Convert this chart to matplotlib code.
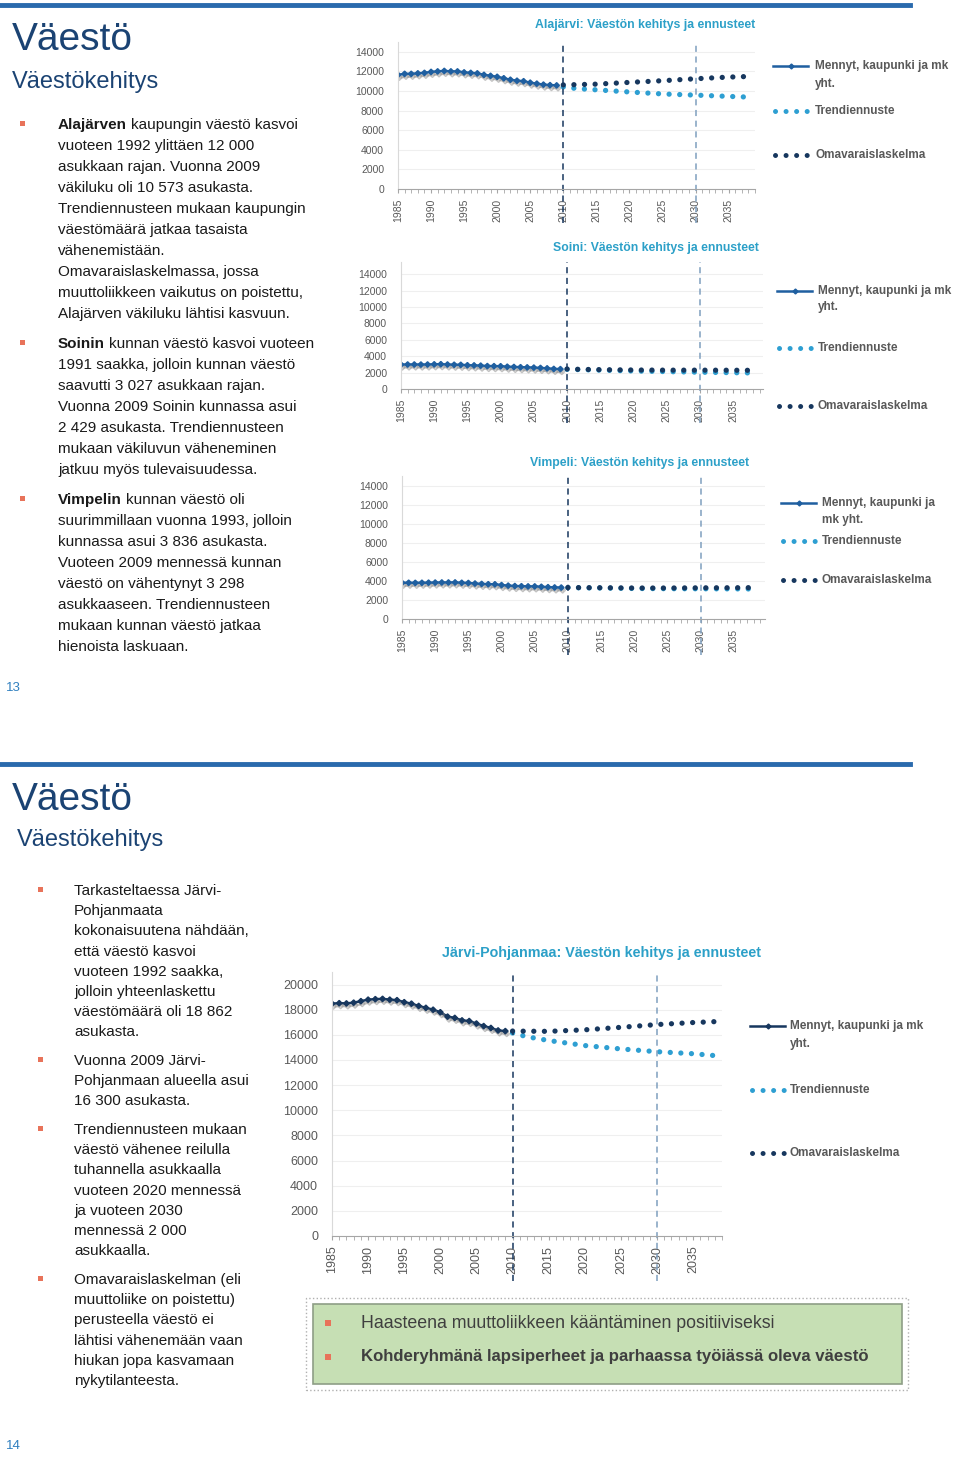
import matplotlib
matplotlib.use('Agg')
import matplotlib.pyplot as plt
import matplotlib.patheffects as pe
from matplotlib.lines import Line2D
from matplotlib.patches import Rectangle

plt.rcParams['font.family'] = ['Liberation Sans', 'DejaVu Sans']

# ---- data ----
hist_years = list(range(1985, 2010))
fc_years = [2010, 2012, 2015, 2020, 2025, 2030, 2035, 2038]

alajarvi_hist = [11650, 11750, 11750, 11800, 11850, 11950, 12000, 12050, 12000, 12000,
                 11900, 11850, 11800, 11650, 11550, 11450, 11300, 11150, 11050, 11000,
                 10850, 10750, 10650, 10600, 10573]
alajarvi_trend = [10420, 10250, 10120, 9900, 9700, 9580, 9450, 9380]
alajarvi_oma = [10620, 10650, 10700, 10880, 11050, 11250, 11420, 11480]

soini_hist = [2980, 2990, 2990, 2980, 2990, 3010, 3027, 2990, 2960, 2950,
              2900, 2880, 2850, 2800, 2790, 2780, 2720, 2690, 2660, 2640,
              2610, 2570, 2520, 2450, 2429]
soini_trend = [2400, 2360, 2300, 2200, 2120, 2050, 1990, 1960]
soini_oma = [2440, 2400, 2360, 2320, 2300, 2300, 2290, 2280]

vimpeli_hist = [3800, 3800, 3790, 3800, 3810, 3820, 3830, 3830, 3836, 3800,
                3780, 3720, 3680, 3650, 3640, 3560, 3500, 3460, 3440, 3420,
                3420, 3380, 3340, 3310, 3298]
vimpeli_trend = [3290, 3270, 3250, 3200, 3180, 3170, 3160, 3150]
vimpeli_oma = [3300, 3290, 3280, 3250, 3250, 3270, 3280, 3290]

jp_hist = [18480, 18520, 18500, 18560, 18680, 18800, 18840, 18862, 18800, 18760,
           18600, 18480, 18300, 18150, 18000, 17800, 17450, 17350, 17150, 17100,
           16900, 16700, 16550, 16350, 16300]
jp_trend = [16150, 15850, 15550, 15150, 14880, 14660, 14500, 14350]
jp_oma = [16300, 16290, 16280, 16400, 16600, 16820, 16980, 17050]

W, H = 960, 1458
fig = plt.figure(figsize=(9.6, 14.58), dpi=100)
renderer = fig.canvas.get_renderer()

NAVY = '#17375e'
HIST_BLUE = '#1f5fa0'
TREND = '#2e9fd2'
TITLE_BLUE = '#1b4373'
TEXT = '#1a1a1a'
GRAY = '#595959'
BULLET = '#e8735a'


def fx(x):
    return x / W


def fy(y):
    return 1 - y / H


def text(x, y, s, **kw):
    return fig.text(fx(x), fy(y), s, **kw)


def hline(x0, x1, y, color, lw):
    fig.add_artist(Line2D([fx(x0), fx(x1)], [fy(y), fy(y)], color=color, lw=lw))


def bullets(xb, xt, blocks, size=11):
    for y0, step, lines, bold in blocks:
        fig.add_artist(Rectangle((fx(xb - 2.5), fy(y0 + 1)), 5 / W, 5 / H,
                                 color=BULLET, lw=0))
        for i, line in enumerate(lines):
            y = y0 + i * step
            x = xt
            if i == 0 and bold:
                t = text(x, y, bold, fontsize=size, fontweight='bold', color=TEXT, va='center')
                x = t.get_window_extent(renderer=renderer).x1 + 4
            text(x, y, line, fontsize=size, color=TEXT, va='center')


def chart(box, xmax, ymax, yticks, hist, trend, oma, title, title_xy, fs,
          hist_color, legend, ext):
    x0, x1, ytop, ybot = box
    ax = fig.add_axes([fx(x0), fy(ybot), (x1 - x0) / W, (ybot - ytop) / H])
    ax.set_xlim(1985, xmax)
    ax.set_ylim(0, ymax)
    ax.set_yticks(yticks)
    ax.yaxis.grid(True, color='#efefef', lw=0.8)
    ax.set_axisbelow(True)
    for s in ['top', 'right']:
        ax.spines[s].set_visible(False)
    ax.spines['left'].set_color('#d9d9d9')
    ax.spines['bottom'].set_color('#a6a6a6')
    ax.set_xticks(list(range(1985, 2036, 5)))
    ax.set_xticks(list(range(1985, int(xmax) + 1)), minor=True)
    ax.tick_params(axis='x', which='both', direction='out', length=3, color='#a6a6a6',
                   labelsize=fs, labelcolor=GRAY, labelrotation=90, pad=4)
    ax.tick_params(axis='y', length=0, labelsize=fs, labelcolor=GRAY, pad=10)

    ax.plot(hist_years, hist, color=hist_color, lw=1.8, marker='D', ms=2.8,
            path_effects=[pe.SimpleLineShadow(offset=(1, -2), shadow_color='#888888', alpha=0.5),
                          pe.Normal()])
    ax.plot(fc_years, trend, color=TREND, lw=3.8, linestyle=(0, (0.01, 2.0)),
            dash_capstyle='round')
    ax.plot(fc_years, oma, color=NAVY, lw=3.8, linestyle=(0, (0.01, 2.0)),
            dash_capstyle='round')

    ax.axvline(2010, ymin=-ext, ymax=1.0, color=NAVY, lw=1.1, ls=(0, (4, 3)), clip_on=False)
    ax.axvline(2030, ymin=-ext, ymax=1.0, color='#7f9fbf', lw=1.1, ls=(0, (4, 3)), clip_on=False)

    text(title_xy[0], title_xy[1], title, fontsize=fs + 1.3, fontweight='bold',
         color='#2ca0c8', ha='center', va='center')

    lx, lt, y_hist, y_hist2, y_trend, y_oma, lab1, lab2 = legend
    fig.add_artist(Line2D([fx(lx), fx(lx + 35)], [fy(y_hist)] * 2, color=hist_color, lw=1.8))
    fig.add_artist(Line2D([fx(lx + 17.5)], [fy(y_hist)], color=hist_color, marker='D', ms=2.5))
    for yy, c in [(y_trend, TREND), (y_oma, NAVY)]:
        fig.add_artist(Line2D([fx(lx + 2), fx(lx + 35)], [fy(yy)] * 2, color=c, lw=3.6,
                              linestyle=(0, (0.01, 2.1)), dash_capstyle='round'))
    lfs = 8.5
    text(lt, y_hist, lab1, fontsize=lfs, fontweight='bold', color=GRAY, va='center')
    text(lt, y_hist2, lab2, fontsize=lfs, fontweight='bold', color=GRAY, va='center')
    text(lt, y_trend, 'Trendiennuste', fontsize=lfs, fontweight='bold', color=GRAY, va='center')
    text(lt, y_oma, 'Omavaraislaskelma', fontsize=lfs, fontweight='bold', color=GRAY, va='center')
    return ax


# ---- slide 13 ----
hline(0, 910, 5, '#2a6aad', 3.5)
text(12, 40, 'Väestö', fontsize=28, color=TITLE_BLUE, va='center')
text(12, 82, 'Väestökehitys', fontsize=17, color=TITLE_BLUE, va='center')

bullets(22, 58, [
    (125, 21, ['kaupungin väestö kasvoi',
               'vuoteen 1992 ylittäen 12 000',
               'asukkaan rajan. Vuonna 2009',
               'väkiluku oli 10 573 asukasta.',
               'Trendiennusteen mukaan kaupungin',
               'väestömäärä jatkaa tasaista',
               'vähenemistään.',
               'Omavaraislaskelmassa, jossa',
               'muuttoliikkeen vaikutus on poistettu,',
               'Alajärven väkiluku lähtisi kasvuun.'], 'Alajärven'),
    (344, 21, ['kunnan väestö kasvoi vuoteen',
               '1991 saakka, jolloin kunnan väestö',
               'saavutti 3 027 asukkaan rajan.',
               'Vuonna 2009 Soinin kunnassa asui',
               '2 429 asukasta. Trendiennusteen',
               'mukaan väkiluvun väheneminen',
               'jatkuu myös tulevaisuudessa.'], 'Soinin'),
    (500, 21, ['kunnan väestö oli',
               'suurimmillaan vuonna 1993, jolloin',
               'kunnassa asui 3 836 asukasta.',
               'Vuoteen 2009 mennessä kunnan',
               'väestö on vähentynyt 3 298',
               'asukkaaseen. Trendiennusteen',
               'mukaan kunnan väestö jatkaa',
               'hienoista laskuaan.'], 'Vimpelin'),
])
text(6, 688, '13', fontsize=9.5, color='#2f7fbf', va='center')

chart((398, 755, 42, 189), 2039, 15000, range(0, 14001, 2000),
      alajarvi_hist, alajarvi_trend, alajarvi_oma,
      'Alajärvi: Väestön kehitys ja ennusteet', (645, 25), 7.5, HIST_BLUE,
      (773, 815, 66, 84, 111, 155, 'Mennyt, kaupunki ja mk', 'yht.'), 0.23)
chart((401, 763, 262, 389), 2039.5, 15500, range(0, 14001, 2000),
      soini_hist, soini_trend, soini_oma,
      'Soini: Väestön kehitys ja ennusteet', (656, 248), 7.5, HIST_BLUE,
      (777, 818, 291, 307, 348, 406, 'Mennyt, kaupunki ja mk', 'yht.'), 0.27)
chart((402, 765, 476, 619), 2039.7, 15000, range(0, 14001, 2000),
      vimpeli_hist, vimpeli_trend, vimpeli_oma,
      'Vimpeli: Väestön kehitys ja ennusteet', (640, 463), 7.5, HIST_BLUE,
      (781, 822, 503, 520, 541, 580, 'Mennyt, kaupunki ja', 'mk yht.'), 0.25)

# ---- slide 14 ----
hline(0, 910, 764, '#2a6aad', 3.5)
text(12, 800, 'Väestö', fontsize=28, color=TITLE_BLUE, va='center')
text(17, 840, 'Väestökehitys', fontsize=17, color=TITLE_BLUE, va='center')

bullets(40, 74, [
    (891, 20.2, ['Tarkasteltaessa Järvi-',
                 'Pohjanmaata',
                 'kokonaisuutena nähdään,',
                 'että väestö kasvoi',
                 'vuoteen 1992 saakka,',
                 'jolloin yhteenlaskettu',
                 'väestömäärä oli 18 862',
                 'asukasta.'], None),
    (1061, 20.2, ['Vuonna 2009 Järvi-',
                  'Pohjanmaan alueella asui',
                  '16 300 asukasta.'], None),
    (1130, 20.2, ['Trendiennusteen mukaan',
                  'väestö vähenee reilulla',
                  'tuhannella asukkaalla',
                  'vuoteen 2020 mennessä',
                  'ja vuoteen 2030',
                  'mennessä 2 000',
                  'asukkaalla.'], None),
    (1280, 20.2, ['Omavaraislaskelman (eli',
                  'muuttoliike on poistettu)',
                  'perusteella väestö ei',
                  'lähtisi vähenemään vaan',
                  'hiukan jopa kasvamaan',
                  'nykytilanteesta.'], None),
])
text(6, 1446, '14', fontsize=9.5, color='#2f7fbf', va='center')

chart((332, 722, 972, 1236), 2039, 21000, range(0, 20001, 2000),
      jp_hist, jp_trend, jp_oma,
      'Järvi-Pohjanmaa: Väestön kehitys ja ennusteet', (601, 953), 9, NAVY,
      (750, 790, 1026, 1044, 1090, 1153, 'Mennyt, kaupunki ja mk', 'yht.'), 0.17)

# green summary box
fig.add_artist(Rectangle((fx(306), fy(1390)), 602 / W, 92 / H, facecolor='white',
                         edgecolor='#b0b0b0', lw=1, ls=':'))
fig.add_artist(Rectangle((fx(313), fy(1384)), 589 / W, 80 / H, facecolor='#c6dfb4',
                         edgecolor='#8e9e86', lw=1.2))
for yy in (1323, 1357):
    fig.add_artist(Rectangle((fx(325), fy(yy + 3)), 6 / W, 6 / H, color=BULLET, lw=0))
text(361, 1323, 'Haasteena muuttoliikkeen kääntäminen positiiviseksi', fontsize=12.8,
     color='#3f3f3f', va='center')
text(361, 1357, 'Kohderyhmänä lapsiperheet ja parhaassa työiässä oleva väestö', fontsize=12.1,
     fontweight='bold', color='#3f3f3f', va='center')

fig.savefig('out.png', dpi=100)
